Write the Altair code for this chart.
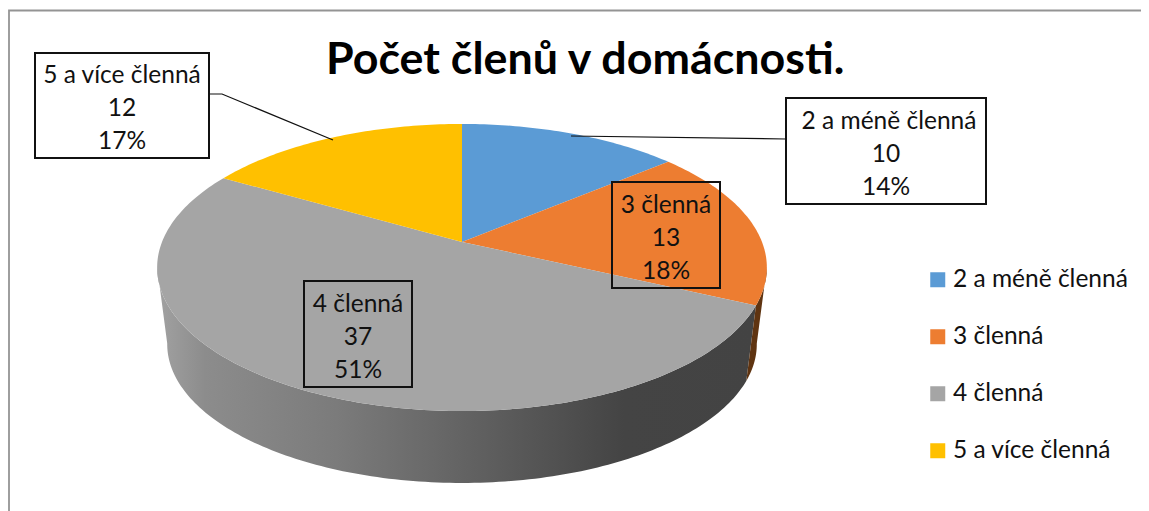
import math
import altair as alt
import pandas as pd

# ---- data
categories = ["2 a méně členná", "3 členná", "4 členná", "5 a více členná"]
values = [10, 13, 37, 12]
percents = [14, 18, 51, 17]
colors = ["#5B9BD5", "#ED7D31", "#A5A5A5", "#FFC000"]
title_text = "Počet členů v domácnosti."

# ---- layout of the perspective pie (page pixels)
CX, CY, A, B, K = 462, 242, 300, 139, 0.1777
S, Y2 = 0.967, 319.5
FONT = "Lato"
total = sum(values)


def top(deg):
    t = math.radians(deg)
    u, v = math.sin(t), -math.cos(t)
    w = 1 - K * v
    return CX + A * u / w, CY + B * v / w


def bottom(deg):
    t = math.radians(deg)
    u, v = math.sin(t), -math.cos(t)
    w = 1 - K * v
    return CX + S * A * u / w, Y2 + S * B * v / w


def arc(fn, a0, a1, step=1.0):
    n = max(2, int(abs(a1 - a0) / step) + 1)
    return [fn(a0 + (a1 - a0) * i / (n - 1)) for i in range(n)]


def table(points, **extra):
    return pd.DataFrame(
        [dict(px=p[0], py=p[1], o=i, **extra) for i, p in enumerate(points)]
    )


xs = alt.Scale(domain=[8, 1141])
ys = alt.Scale(domain=[511, 8])
X = alt.X("px:Q", scale=xs, axis=None)
Y = alt.Y("py:Q", scale=ys, axis=None)

# wedges
rows, start = [], 0.0
angles = []
for c, val in zip(categories, values):
    end = start + val / total * 360
    angles.append((start, end))
    pts = [(CX, CY)] + arc(top, start, end)
    rows.append(table(pts, cat=c))
    start = end
wedges = pd.concat(rows)

orange_end = angles[1][1]
LEFT_SIL, RIGHT_SIL = 260, 100
grey_side = table(arc(top, orange_end, LEFT_SIL) + arc(bottom, LEFT_SIL, orange_end))
orange_side = table(arc(top, RIGHT_SIL, orange_end) + arc(bottom, orange_end, RIGHT_SIL))

side_gradient = alt.Gradient(
    gradient="linear", x1=0, x2=1, y1=0, y2=0,
    stops=[
        alt.GradientStop(color="#a2a2a2", offset=0),
        alt.GradientStop(color="#8c8c8c", offset=0.08),
        alt.GradientStop(color="#7b7b7b", offset=0.3),
        alt.GradientStop(color="#626262", offset=0.52),
        alt.GradientStop(color="#444444", offset=0.78),
        alt.GradientStop(color="#434343", offset=1),
    ],
)
grey_layer = alt.Chart(grey_side).mark_line(
    filled=True, fill=side_gradient, strokeWidth=0, clip=False
).encode(x=X, y=Y, order="o:Q")
orange_layer = alt.Chart(orange_side).mark_line(
    filled=True, fill="#5f3411", strokeWidth=0
).encode(x=X, y=Y, order="o:Q")

legend = alt.Legend(
    title=None, orient="none", legendX=917.5, legendY=259.5, symbolType="square",
    symbolSize=225, symbolStrokeWidth=0, labelFont=FONT, labelFontSize=24.5,
    labelColor="#111111", rowPadding=32, labelOffset=3, padding=0, labelLimit=400,
)
wedge_layer = alt.Chart(wedges).mark_line(filled=True, strokeWidth=0).encode(
    x=X, y=Y, order="o:Q", detail="cat:N",
    color=alt.Color("cat:N", scale=alt.Scale(domain=categories, range=colors),
                    sort=categories, legend=legend),
)

# data-label boxes, leader lines, border
label_layout = [
    (786, 986, 98, 204, 129, 886, 3),
    (612, 720, 182, 288, 213, 666, 0),
    (304, 412, 281, 387, 312, 358, 0),
    (35, 209, 53, 158, 83, 122, 0),
]
box_rows, line_rows = [], []
for c, v, p, lay in zip(categories, values, percents, label_layout):
    box_rows.append(dict(
        x0=lay[0], x1=lay[1], y0=lay[2], y1=lay[3],
        filled="none" if c in categories[1:3] else "white",
    ))
    for i, (line, shift) in enumerate([(c, lay[6]), (str(v), 0), (f"{p}%", 0)]):
        line_rows.append(dict(tx=lay[5] + shift, ty=lay[4] + i * 33, line=line))
boxes = pd.DataFrame(box_rows)
lines = pd.DataFrame(line_rows)
white_boxes = alt.Chart(boxes[boxes.filled == "white"]).mark_rect(
    fill="white", stroke="#111111", strokeWidth=2
).encode(x=alt.X("x0:Q", scale=xs, axis=None), x2="x1:Q",
         y=alt.Y("y0:Q", scale=ys, axis=None), y2="y1:Q")
open_boxes = alt.Chart(boxes[boxes.filled == "none"]).mark_rect(
    fillOpacity=0, stroke="#111111", strokeWidth=2
).encode(x=alt.X("x0:Q", scale=xs, axis=None), x2="x1:Q",
         y=alt.Y("y0:Q", scale=ys, axis=None), y2="y1:Q")
label_text = alt.Chart(lines).mark_text(
    font=FONT, fontSize=24.5, baseline="alphabetic", align="center", color="#111111",
).encode(x=alt.X("tx:Q", scale=xs, axis=None), y=alt.Y("ty:Q", scale=ys, axis=None),
         text="line:N")

leaders = pd.concat([
    table([(786, 139), (571, 136)], g="a"),
    table([(209, 94), (222, 94), (333, 140)], g="b"),
])
leader_layer = alt.Chart(leaders).mark_line(color="#111111", strokeWidth=1.2).encode(
    x=X, y=Y, order="o:Q", detail="g:N")

border = table([(9, 511), (9, 10.5), (1141, 10.5)], g="b")
border_layer = alt.Chart(border).mark_line(color="#949494", strokeWidth=1.8).encode(
    x=X, y=Y, order="o:Q", detail="g:N")

chart = alt.layer(
    border_layer, grey_layer, orange_layer, wedge_layer, leader_layer,
    open_boxes, white_boxes, label_text,
).properties(
    width=1133, height=503, padding=0,
    autosize=alt.AutoSizeParams(type="none"),
    title=alt.Title(title_text, font=FONT, fontSize=44.8, fontWeight="bold",
                    color="#000000", anchor="start", frame="group",
                    baseline="alphabetic", dx=318, dy=112, offset=0),
).configure_view(stroke=None)

chart.save("out.html", embed_options={"renderer": "svg", "actions": False})
